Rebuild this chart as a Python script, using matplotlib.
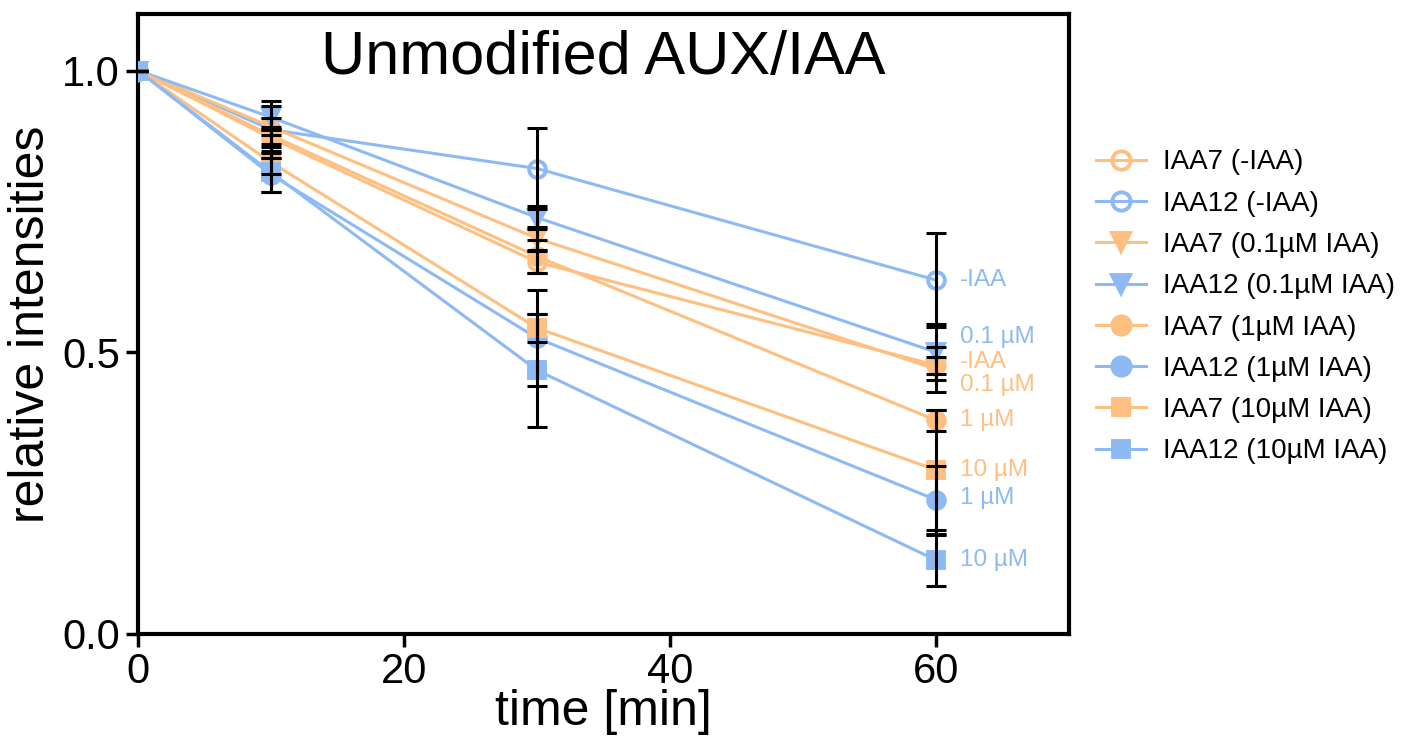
import matplotlib
matplotlib.use("Agg")
import matplotlib.pyplot as plt

plt.rcParams['font.family'] = ['Liberation Sans', 'DejaVu Sans']

time = [0, 10, 30, 60]

series_names = ["IAA7 (-IAA)", "IAA12 (-IAA)", "IAA7 (0.1µM IAA)", "IAA12 (0.1µM IAA)",
                "IAA7 (1µM IAA)", "IAA12 (1µM IAA)", "IAA7 (10µM IAA)", "IAA12 (10µM IAA)"]
iaa7_minus = [1.0, 0.880, 0.660, 0.477]
iaa12_minus = [1.0, 0.895, 0.826, 0.628]
iaa7_01 = [1.0, 0.900, 0.702, 0.470]
iaa12_01 = [1.0, 0.917, 0.739, 0.500]
iaa7_1 = [1.0, 0.885, 0.670, 0.379]
iaa12_1 = [1.0, 0.815, 0.525, 0.238]
iaa7_10 = [1.0, 0.837, 0.543, 0.291]
iaa12_10 = [1.0, 0.819, 0.468, 0.131]

err_iaa7_minus = [0, 0.015, 0.02, 0.015]
err_iaa12_minus = [0, 0.05, 0.072, 0.083]
err_iaa7_01 = [0, 0.015, 0.02, 0.04]
err_iaa12_01 = [0, 0.02, 0.02, 0.05]
err_iaa7_1 = [0, 0.015, 0.03, 0.018]
err_iaa12_1 = [0, 0.03, 0.085, 0.06]
err_iaa7_10 = [0, 0.02, 0.025, 0.106]
err_iaa12_10 = [0, 0.035, 0.10, 0.045]

end_labels = ["-IAA", "-IAA", "0.1 µM", "0.1 µM", "1 µM", "1 µM", "10 µM", "10 µM"]
end_label_y = [0.482, 0.628, 0.441, 0.527, 0.379, 0.241, 0.291, 0.131]

values = [iaa7_minus, iaa12_minus, iaa7_01, iaa12_01, iaa7_1, iaa12_1, iaa7_10, iaa12_10]
errors = [err_iaa7_minus, err_iaa12_minus, err_iaa7_01, err_iaa12_01,
          err_iaa7_1, err_iaa12_1, err_iaa7_10, err_iaa12_10]

ORANGE = "#FFBF80"
BLUE = "#8DBAF5"
colors = [ORANGE, BLUE] * 4
markers = ["o", "o", "v", "v", "o", "o", "s", "s"]
msizes = [12, 12, 12, 12, 12, 12, 11, 11]
filled = [False, False, True, True, True, True, True, True]

fig = plt.figure(figsize=(14.13, 7.45), dpi=100)
ax = fig.add_axes([0.0977, 0.149, 0.659, 0.832])

handles = []
for i, (name, v, e) in enumerate(zip(series_names, values, errors)):
    c = colors[i]
    ax.errorbar(time, v, yerr=e, fmt="none", ecolor="black", elinewidth=2.2,
                capsize=7, capthick=2.2, zorder=5)
    h, = ax.plot(time, v, color=c, lw=2.2, marker=markers[i], ms=msizes[i],
                 markerfacecolor=c if filled[i] else "none",
                 markeredgecolor=c, markeredgewidth=2.8, zorder=3, label=name)
    handles.append(h)
    ax.text(61.8, end_label_y[i], end_labels[i], color=c, fontsize=17.5,
            va="center", ha="left", zorder=6)

ax.set_xlim(0, 70)
ax.set_ylim(0, 1.1)
ax.set_xticks([0, 20, 40, 60])
ax.set_yticks([0.0, 0.5, 1.0])
ax.set_yticklabels(["0.0", "0.5", "1.0"])
for s in ax.spines.values():
    s.set_linewidth(3)
ax.tick_params(axis="both", which="major", direction="out", length=9, width=2.5,
               labelsize=30, pad=4)
ax.set_xlabel("time [min]", fontsize=36, labelpad=-2)
ax.set_ylabel("relative intensities", fontsize=36, labelpad=6)
ax.text(0.5, 0.975, "Unmodified AUX/IAA", transform=ax.transAxes, ha="center",
        va="top", fontsize=44)

leg = fig.legend(handles=handles, loc="center left", bbox_to_anchor=(0.758, 0.588),
                 frameon=False, fontsize=20, handlelength=1.8, labelspacing=0.55,
                 handletextpad=0.6, markerscale=1.1)

fig.savefig("out.png", dpi=100)
